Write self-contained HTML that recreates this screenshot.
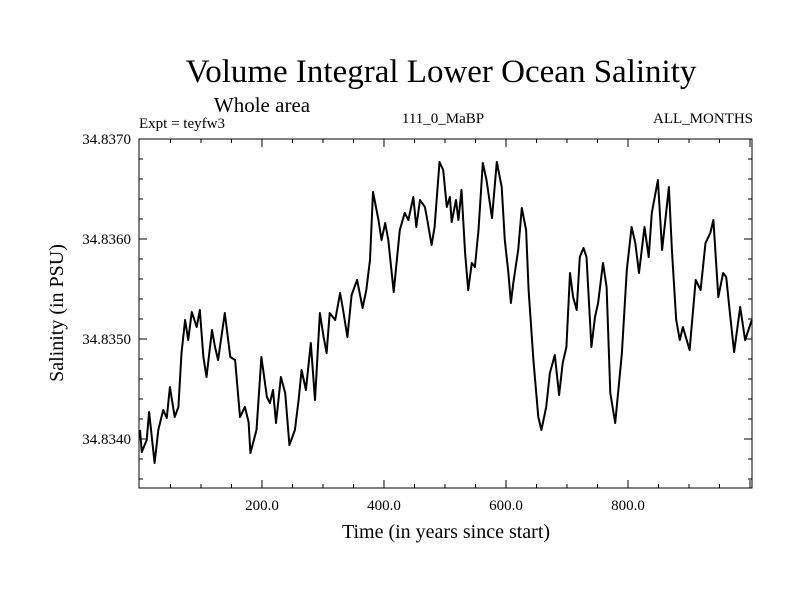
<!DOCTYPE html>
<html><head><meta charset="utf-8"><style>
html,body{margin:0;padding:0;background:#fff;}
svg text{font-family:"Liberation Serif",serif;fill:#000;}
</style></head><body>
<svg id="chart" width="800" height="600" viewBox="0 0 800 600" xmlns="http://www.w3.org/2000/svg">
<rect width="800" height="600" fill="#fff"/>
<text x="441" y="82" font-size="33" text-anchor="middle">Volume Integral Lower Ocean Salinity</text>
<text x="262" y="112" font-size="21" text-anchor="middle">Whole area</text>
<text x="139" y="128" font-size="15">Expt = teyfw3</text>
<text x="443" y="123" font-size="15" text-anchor="middle">111_0_MaBP</text>
<text x="753" y="123" font-size="15" text-anchor="end">ALL_MONTHS</text>
<text transform="translate(63,313) rotate(-90)" font-size="20" text-anchor="middle">Salinity (in PSU)</text>
<text x="446" y="538" font-size="20" text-anchor="middle">Time (in years since start)</text>
<g id="axes"></g>
<g id="series"></g>
<rect x="139" y="139" width="613" height="349" fill="none" stroke="#000" stroke-width="1"/>
</svg>
<script>
const years = [0,3,11,15,24,30,38,44,49,57,63,68,74,79,85,93,98,104,109,118,123,128,139,148,156,164,172,178,181,191,199,208,213,218,223,231,238,245,254,260,265,272,280,287,295,301,306,311,320,328,333,340,347,356,365,371,377,382,391,396,402,407,416,426,434,440,448,453,459,467,471,478,483,491,497,503,508,511,518,522,527,533,538,544,549,555,562,568,577,585,593,598,604,608,612,620,626,633,637,645,653,658,666,672,680,687,693,699,705,710,716,721,727,732,740,746,751,759,765,771,779,790,798,806,812,818,827,834,839,849,856,867,872,879,885,890,901,911,919,927,935,940,948,956,961,967,974,984,992,1003];
const salinity = [34.83409,34.83387,34.83399,34.83427,34.83376,34.83409,34.83429,34.83421,34.83452,34.83422,34.83432,34.83486,34.83519,34.83499,34.83527,34.83512,34.83529,34.83482,34.83462,34.83509,34.83492,34.83479,34.83526,34.83482,34.83479,34.83422,34.83432,34.83417,34.83386,34.83409,34.83482,34.83442,34.83436,34.83449,34.83416,34.83462,34.83446,34.83394,34.83409,34.83439,34.83469,34.83449,34.83496,34.83439,34.83526,34.83502,34.83486,34.83526,34.83519,34.83546,34.83529,34.83502,34.83544,34.83559,34.83531,34.83549,34.83579,34.83647,34.83619,34.83599,34.83616,34.83599,34.83547,34.83609,34.83626,34.83619,34.83642,34.83612,34.83639,34.83632,34.83619,34.83594,34.83612,34.83677,34.83669,34.83632,34.83642,34.83617,34.83639,34.83619,34.83649,34.83586,34.83549,34.83576,34.83572,34.83609,34.83676,34.83659,34.83621,34.83677,34.83652,34.83599,34.83566,34.83536,34.83556,34.83589,34.83631,34.83609,34.83549,34.83479,34.83422,34.83409,34.83432,34.83466,34.83484,34.83444,34.83476,34.83492,34.83566,34.83542,34.83529,34.83582,34.83591,34.83582,34.83492,34.83522,34.83536,34.83576,34.83552,34.83446,34.83416,34.83486,34.83569,34.83612,34.83596,34.83566,34.83612,34.83582,34.83626,34.83659,34.83589,34.83652,34.83589,34.83519,34.83499,34.83512,34.83489,34.83559,34.83549,34.83596,34.83606,34.83619,34.83542,34.83566,34.83562,34.83526,34.83487,34.83532,34.83499,34.83519];
const yTickValues = [34.834,34.835,34.836,34.837];
const yTickLabels = ["34.8340","34.8350","34.8360","34.8370"];
const xTickValues = [200,400,600,800];
const xTickLabels = ["200.0","400.0","600.0","800.0"];

const X0=139,X1=752,Y0=139,Y1=488;
const xMin=-1.6,xMax=1003.3,yMin=34.83351,yMax=34.837;
function xs(v){return X0+(v-xMin)/(xMax-xMin)*(X1-X0);}
function ys(v){return Y1-(v-yMin)/(yMax-yMin)*(Y1-Y0);}
const NS='http://www.w3.org/2000/svg';
const axes=document.getElementById('axes');
function line(x1,y1,x2,y2,name){
  const l=document.createElementNS(NS,'line');
  l.setAttribute('x1',x1);l.setAttribute('y1',y1);l.setAttribute('x2',x2);l.setAttribute('y2',y2);
  l.setAttribute('stroke','#000');l.setAttribute('stroke-width','1');
  
  
  axes.appendChild(l);
}
function text(x,y,s,anchor,name){
  const t=document.createElementNS(NS,'text');
  t.setAttribute('x',x);t.setAttribute('y',y);t.setAttribute('font-size','15');t.setAttribute('text-anchor',anchor);
  t.textContent=s;
  
  
  axes.appendChild(t);
}
// y minor ticks every 0.0002
for(let k=0;k<=17;k++){
  const v=34.8336+k*0.0002; if(v>yMax+1e-9) break;
  const y=ys(v); const major=Math.abs(v*1000-Math.round(v*1000))<1e-6;
  const len=major?8:4;
  line(X0,y,X0+len,y,'y-tick');
  line(X1,y,X1-len,y,'y-tick-right');
}
yTickValues.forEach((v,i)=>text(131,ys(v)+5,yTickLabels[i],'end','y-tick-label'));
// x ticks every 50
for(let v=50;v<=1000;v+=50){
  const x=xs(v); const len=(v%200===0)?8:4;
  line(x,Y1,x,Y1-len,'x-tick');
  line(x,Y0,x,Y0+len,'x-tick-top');
}
xTickValues.forEach((v,i)=>text(xs(v),510,xTickLabels[i],'middle','x-tick-label'));
// series
const p=document.createElementNS(NS,'polyline');
p.setAttribute('points',years.map((yr,i)=>xs(yr).toFixed(1)+','+ys(salinity[i]).toFixed(1)).join(' '));
p.setAttribute('fill','none');p.setAttribute('stroke','#000');p.setAttribute('stroke-width','2');p.setAttribute('stroke-linejoin','round');


document.getElementById('series').appendChild(p);
</script>
</body></html>
